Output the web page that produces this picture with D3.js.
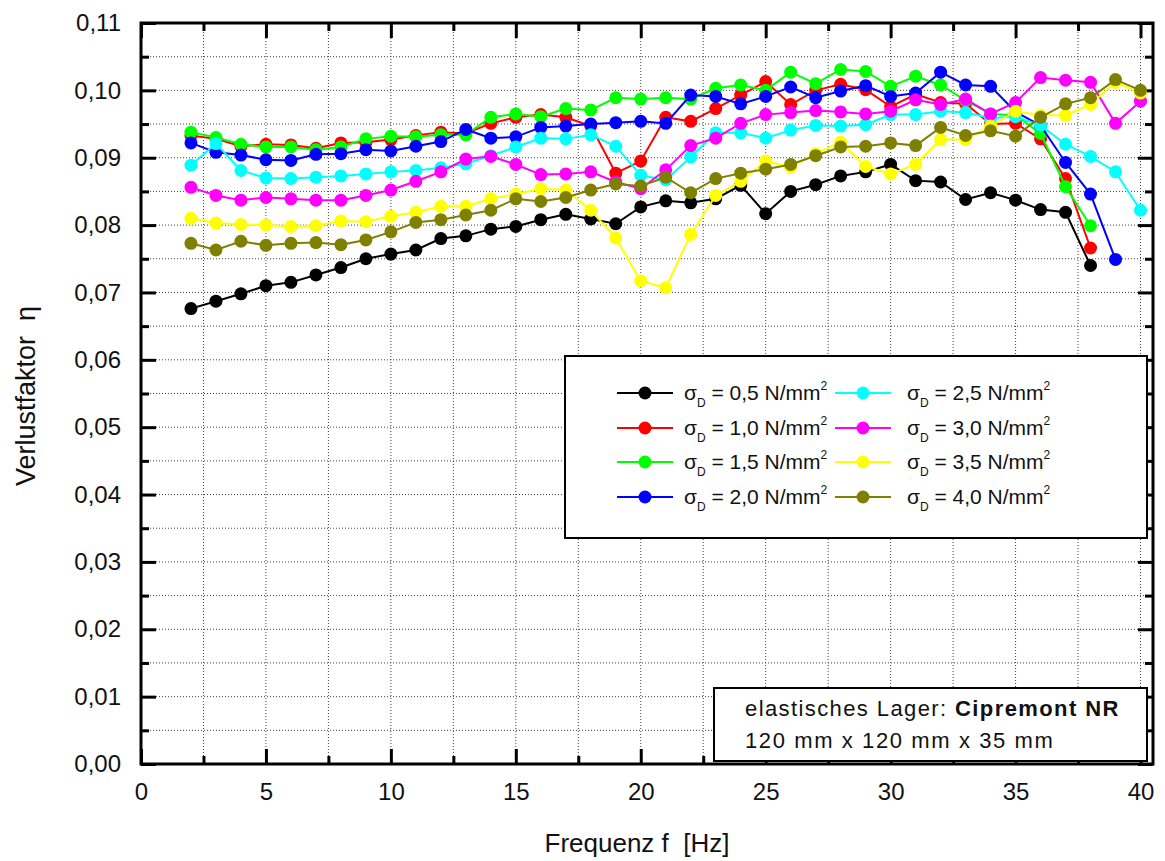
<!DOCTYPE html>
<html>
<head>
<meta charset="utf-8">
<script src="https://cdn.jsdelivr.net/npm/d3@7"></script>
<style>
  body { margin: 0; background: #fff; }
  text { font-family: "Liberation Sans", Arial, sans-serif; fill: #111; }
</style>
</head>
<body>
<div id="chart"></div>
<script>
// DATA
var freqs = d3.range( 2, 41 ); // 2 .. 40 Hz

var labels = [ '0,5', '1,0', '1,5', '2,0', '2,5', '3,0', '3,5', '4,0' ];
var colors = [ '#000000', '#ff0000', '#00ff00', '#0000ff', '#00ffff', '#ff00ff', '#ffff00', '#808000' ];

var s05 = [ 0.0676, 0.0687, 0.0698, 0.0710, 0.0715, 0.0726, 0.0737, 0.0750, 0.0757, 0.0763,
	0.0780, 0.0784, 0.0794, 0.0798, 0.0808, 0.0816, 0.0809, 0.0802, 0.0827, 0.0836,
	0.0833, 0.0839, 0.0859, 0.0817, 0.0850, 0.0860, 0.0873, 0.0879, 0.0890, 0.0866,
	0.0864, 0.0838, 0.0848, 0.0837, 0.0823, 0.0819, 0.0740 ];
var s10 = [ 0.0933, 0.0928, 0.0917, 0.0920, 0.0919, 0.0914, 0.0922, 0.0923, 0.0927, 0.0933,
	0.0938, 0.0936, 0.0951, 0.0960, 0.0964, 0.0960, 0.0947, 0.0877, 0.0895, 0.0960,
	0.0954, 0.0973, 0.0993, 0.1013, 0.0979, 0.1000, 0.1009, 0.1001, 0.0976, 0.0994,
	0.0982, 0.0980, 0.0950, 0.0951, 0.0928, 0.0869, 0.0766 ];
var s15 = [ 0.0938, 0.0930, 0.0920, 0.0916, 0.0916, 0.0912, 0.0916, 0.0928, 0.0932, 0.0931,
	0.0934, 0.0934, 0.0960, 0.0965, 0.0961, 0.0973, 0.0971, 0.0989, 0.0987, 0.0989,
	0.0987, 0.1003, 0.1008, 0.1000, 0.1027, 0.1010, 0.1031, 0.1028, 0.1006, 0.1021,
	0.1008, 0.0985, 0.0965, 0.0963, 0.0936, 0.0857, 0.0799 ];
var s20 = [ 0.0922, 0.0908, 0.0904, 0.0897, 0.0896, 0.0905, 0.0906, 0.0912, 0.0910, 0.0917,
	0.0924, 0.0942, 0.0929, 0.0931, 0.0945, 0.0947, 0.0950, 0.0952, 0.0954, 0.0951,
	0.0993, 0.0991, 0.0980, 0.0991, 0.1005, 0.0989, 0.0999, 0.1007, 0.0991, 0.0996,
	0.1027, 0.1008, 0.1006, 0.0968, 0.0948, 0.0893, 0.0846, 0.0749 ];
var s25 = [ 0.0889, 0.0921, 0.0881, 0.0870, 0.0869, 0.0871, 0.0873, 0.0876, 0.0879, 0.0881,
	0.0885, 0.0891, 0.0903, 0.0916, 0.0929, 0.0928, 0.0934, 0.0917, 0.0874, 0.0867,
	0.0901, 0.0937, 0.0937, 0.0929, 0.0941, 0.0948, 0.0947, 0.0949, 0.0964, 0.0964,
	0.0969, 0.0967, 0.0959, 0.0961, 0.0948, 0.0920, 0.0902, 0.0879, 0.0822 ];
var s30 = [ 0.0856, 0.0844, 0.0837, 0.0841, 0.0839, 0.0837, 0.0837, 0.0844, 0.0852, 0.0865,
	0.0879, 0.0898, 0.0902, 0.0890, 0.0875, 0.0876, 0.0879, 0.0864, 0.0854, 0.0882,
	0.0918, 0.0929, 0.0951, 0.0964, 0.0967, 0.0970, 0.0968, 0.0965, 0.0969, 0.0986,
	0.0979, 0.0987, 0.0965, 0.0982, 0.1019, 0.1015, 0.1012, 0.0951, 0.0984 ];
var s35 = [ 0.0810, 0.0803, 0.0801, 0.0800, 0.0798, 0.0799, 0.0806, 0.0805, 0.0813, 0.0819,
	0.0828, 0.0828, 0.0839, 0.0846, 0.0854, 0.0852, 0.0822, 0.0781, 0.0717, 0.0707,
	0.0786, 0.0844, 0.0865, 0.0895, 0.0886, 0.0906, 0.0923, 0.0887, 0.0876, 0.0890,
	0.0927, 0.0927, 0.0947, 0.0969, 0.0963, 0.0963, 0.0979, 0.1012, 0.0996 ];
var s40 = [ 0.0773, 0.0763, 0.0776, 0.0770, 0.0773, 0.0774, 0.0771, 0.0778, 0.0790, 0.0804,
	0.0808, 0.0815, 0.0822, 0.0839, 0.0835, 0.0841, 0.0852, 0.0861, 0.0858, 0.0871,
	0.0848, 0.0869, 0.0877, 0.0883, 0.0890, 0.0903, 0.0916, 0.0917, 0.0922, 0.0918,
	0.0945, 0.0933, 0.0940, 0.0932, 0.0960, 0.0980, 0.0989, 0.1016, 0.1000 ];

var seriesValues = [ s05, s10, s15, s20, s25, s30, s35, s40 ];

var xTicks = [ 0, 5, 10, 15, 20, 25, 30, 35, 40 ];
var yTicks = [ 0, 0.01, 0.02, 0.03, 0.04, 0.05, 0.06, 0.07, 0.08, 0.09, 0.10, 0.11 ];

// LAYOUT
var W = 1165, H = 861;
var plotL = 141, plotR = 1153, plotT = 23, plotB = 764;

var svg = d3.select( '#chart' ).append( 'svg' )
	.attr( 'width', W )
	.attr( 'height', H );

var xScale = d3.scaleLinear().domain( [ 0, 40.5 ] ).range( [ plotL, plotR ] );
var yScale = d3.scaleLinear().domain( [ 0, 0.11 ] ).range( [ plotB, plotT ] );

var comma = d3.formatLocale( { decimal: ',', thousands: '.', grouping: [ 3 ], currency: [ '', '' ] } );
var fmtY = comma.format( '.2f' );

// grid (dotted)
var xGrid = d3.range( 2.5, 40.1, 2.5 );
var yGrid = d3.range( 0.005, 0.1051, 0.005 );

svg.append( 'g' ).selectAll( 'line' )
	.data( xGrid ).enter().append( 'line' )
	.attr( 'x1', d => xScale( d ) ).attr( 'x2', d => xScale( d ) )
	.attr( 'y1', plotT ).attr( 'y2', plotB )
	.attr( 'stroke', '#444' ).attr( 'stroke-width', 1 ).attr( 'stroke-dasharray', '1,2' );

svg.append( 'g' ).selectAll( 'line' )
	.data( yGrid ).enter().append( 'line' )
	.attr( 'x1', plotL ).attr( 'x2', plotR )
	.attr( 'y1', d => yScale( d ) ).attr( 'y2', d => yScale( d ) )
	.attr( 'stroke', '#444' ).attr( 'stroke-width', 1 ).attr( 'stroke-dasharray', '1,2' );

// axes - ticks point inward
function styleAxis( g ) {
	g.select( '.domain' ).remove();
	g.selectAll( '.tick line' ).attr( 'stroke', '#000' ).attr( 'stroke-width', 3 );
	g.selectAll( '.tick text' ).attr( 'font-size', '24px' ).attr( 'fill', '#111' )
		.attr( 'font-family', '"Liberation Sans", Arial, sans-serif' );
}

var xMinor = d3.range( 2.5, 40, 5 );
var yMinor = d3.range( 0.005, 0.11, 0.01 );

svg.append( 'g' )
	.attr( 'transform', 'translate(0,' + plotB + ')' )
	.call( d3.axisBottom( xScale ).tickValues( xTicks ).tickSizeInner( -15 ).tickSizeOuter( 0 ).tickPadding( 19 ).tickFormat( d3.format( 'd' ) ) )
	.call( styleAxis );
svg.append( 'g' )
	.attr( 'transform', 'translate(0,' + plotB + ')' )
	.call( d3.axisBottom( xScale ).tickValues( xMinor ).tickSizeInner( -8 ).tickSizeOuter( 0 ).tickFormat( '' ) )
	.call( styleAxis );
svg.append( 'g' )
	.attr( 'transform', 'translate(0,' + plotT + ')' )
	.call( d3.axisTop( xScale ).tickValues( xTicks ).tickSizeInner( -15 ).tickSizeOuter( 0 ).tickFormat( '' ) )
	.call( styleAxis );
svg.append( 'g' )
	.attr( 'transform', 'translate(0,' + plotT + ')' )
	.call( d3.axisTop( xScale ).tickValues( xMinor ).tickSizeInner( -8 ).tickSizeOuter( 0 ).tickFormat( '' ) )
	.call( styleAxis );

svg.append( 'g' )
	.attr( 'transform', 'translate(' + plotL + ',0)' )
	.call( d3.axisLeft( yScale ).tickValues( yTicks ).tickSizeInner( -15 ).tickSizeOuter( 0 ).tickPadding( 20 ).tickFormat( fmtY ) )
	.call( styleAxis );
svg.append( 'g' )
	.attr( 'transform', 'translate(' + plotL + ',0)' )
	.call( d3.axisLeft( yScale ).tickValues( yMinor ).tickSizeInner( -8 ).tickSizeOuter( 0 ).tickFormat( '' ) )
	.call( styleAxis );
svg.append( 'g' )
	.attr( 'transform', 'translate(' + plotR + ',0)' )
	.call( d3.axisRight( yScale ).tickValues( yTicks ).tickSizeInner( -15 ).tickSizeOuter( 0 ).tickFormat( '' ) )
	.call( styleAxis );
svg.append( 'g' )
	.attr( 'transform', 'translate(' + plotR + ',0)' )
	.call( d3.axisRight( yScale ).tickValues( yMinor ).tickSizeInner( -8 ).tickSizeOuter( 0 ).tickFormat( '' ) )
	.call( styleAxis );

// frame
svg.append( 'rect' )
	.attr( 'x', plotL ).attr( 'y', plotT )
	.attr( 'width', plotR - plotL ).attr( 'height', plotB - plotT )
	.attr( 'fill', 'none' ).attr( 'stroke', '#000' ).attr( 'stroke-width', 3 );

// series
var line = d3.line()
	.x( d => xScale( d.f ) )
	.y( d => yScale( d.v ) );

seriesValues.forEach( function( vals, i ) {
	var pts = vals.map( ( v, j ) => ( { f: freqs[ j ], v: v } ) );
	var g = svg.append( 'g' );
	g.append( 'path' )
		.datum( pts )
		.attr( 'd', line )
		.attr( 'fill', 'none' )
		.attr( 'stroke', colors[ i ] )
		.attr( 'stroke-width', 2 );
	g.selectAll( 'circle' )
		.data( pts ).enter().append( 'circle' )
		.attr( 'cx', d => xScale( d.f ) )
		.attr( 'cy', d => yScale( d.v ) )
		.attr( 'r', 6.5 )
		.attr( 'fill', colors[ i ] );
} );

// legend
svg.append( 'rect' )
	.attr( 'x', 565 ).attr( 'y', 356 )
	.attr( 'width', 582 ).attr( 'height', 182 )
	.attr( 'fill', '#fff' ).attr( 'stroke', '#000' ).attr( 'stroke-width', 2 );

var legRowY = [ 393, 428, 462, 497 ];
var legCols = [ { lx: 617, tx: 684 }, { lx: 835, tx: 907 } ];

labels.forEach( function( lab, i ) {
	var col = legCols[ Math.floor( i / 4 ) ];
	var yy = legRowY[ i % 4 ];
	svg.append( 'line' )
		.attr( 'x1', col.lx ).attr( 'x2', col.lx + 56 )
		.attr( 'y1', yy ).attr( 'y2', yy )
		.attr( 'stroke', colors[ i ] ).attr( 'stroke-width', 2 );
	svg.append( 'circle' )
		.attr( 'cx', col.lx + 28 ).attr( 'cy', yy )
		.attr( 'r', 6.5 ).attr( 'fill', colors[ i ] );
	var t = svg.append( 'text' )
		.attr( 'x', col.tx ).attr( 'y', yy + 7 )
		.attr( 'font-size', '21px' );
	t.append( 'tspan' ).text( 'σ' );
	t.append( 'tspan' ).attr( 'font-size', '12px' ).attr( 'dy', 7 ).text( 'D' );
	t.append( 'tspan' ).attr( 'dy', -7 ).text( ' = ' + lab + ' N/mm' );
	t.append( 'tspan' ).attr( 'font-size', '12px' ).attr( 'dy', -10 ).text( '2' );
} );

// info box
svg.append( 'rect' )
	.attr( 'x', 714 ).attr( 'y', 688 )
	.attr( 'width', 433 ).attr( 'height', 73 )
	.attr( 'fill', '#fff' ).attr( 'stroke', '#000' ).attr( 'stroke-width', 2 );

var info1 = svg.append( 'text' ).attr( 'x', 745 ).attr( 'y', 716 )
	.attr( 'font-size', '22px' ).attr( 'letter-spacing', '1.4px' );
info1.append( 'tspan' ).text( 'elastisches Lager: ' );
info1.append( 'tspan' ).attr( 'font-weight', 'bold' ).text( 'Cipremont NR' );

svg.append( 'text' ).attr( 'x', 745 ).attr( 'y', 748 )
	.attr( 'font-size', '22px' ).attr( 'letter-spacing', '1.6px' )
	.text( '120 mm x 120 mm x 35 mm' );

// axis titles
svg.append( 'text' )
	.attr( 'x', 637 ).attr( 'y', 852 )
	.attr( 'text-anchor', 'middle' )
	.attr( 'font-size', '26px' )
	.style( 'white-space', 'pre' )
	.text( 'Frequenz f  [Hz]' );

svg.append( 'text' )
	.attr( 'transform', 'translate(35,396) rotate(-90)' )
	.attr( 'text-anchor', 'middle' )
	.attr( 'font-size', '27px' )
	.style( 'white-space', 'pre' )
	.text( 'Verlustfaktor  η' );
</script>
</body>
</html>
